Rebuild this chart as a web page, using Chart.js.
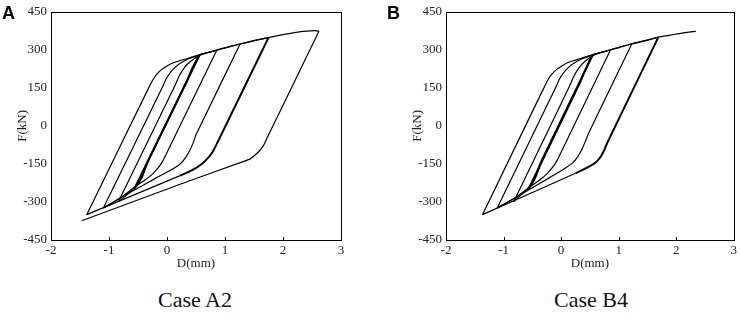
<!DOCTYPE html>
<html>
<head>
<meta charset="utf-8">
<script src="https://cdn.jsdelivr.net/npm/chart.js@4.4.1/dist/chart.umd.min.js"></script>
<style>
  body { margin: 0; background: #fff; width: 740px; height: 323px; overflow: hidden; position: relative; }
  .pane { position: absolute; top: 0; width: 370px; height: 275px; }
  .tag { position: absolute; font-family: "Liberation Sans", Arial, sans-serif; font-weight: bold; font-size: 18px; line-height: 18px; color: #000; }
  .cap { position: absolute; font-family: "Liberation Serif", "Times New Roman", serif; font-size: 22px; line-height: 22px; color: #111; transform: translateX(-50%); white-space: nowrap; }
</style>
</head>
<body>
<div class="pane" style="left:0"><canvas id="chartA" width="370" height="275"></canvas></div>
<div class="pane" style="left:370px"><canvas id="chartB" width="370" height="275"></canvas></div>
<div class="tag" style="left:2px;top:4px">A</div>
<div class="tag" style="left:387px;top:4px">B</div>
<div class="cap" style="left:195px;top:289px">Case A2</div>
<div class="cap" style="left:591px;top:289px">Case B4</div>
<script>
// axis setup
const xTicks = [-2, -1, 0, 1, 2, 3];
const yTicks = [-450, -300, -150, 0, 150, 300, 450];

// Case A2 branches, [D (mm), F (kN)]
const aLoad1 = [[-0.567,-250],[0.34,175],[0.4,208],[0.46,238],[0.51,260],[0.56,278]];
const aUnload1 = [[0.56,278],[-0.33,-140],[-0.38,-170],[-0.43,-200],[-0.5,-228],[-0.58,-250],[-0.68,-270],[-0.838,-299]];
const aLoad2 = [[-0.838,-299],[0.14,160],[0.2,192],[0.27,220],[0.35,243],[0.45,262],[0.55,277],[0.65,286],[0.75,292],[0.86,299]];
const aUnload2 = [[0.86,299],[0.0,-105],[-0.07,-137],[-0.15,-165],[-0.25,-190],[-0.38,-213],[-0.55,-240],[-0.75,-275],[-1.097,-324]];
const aLoad3 = [[-1.097,-324],[-0.08,152],[-0.02,183],[0.05,208],[0.13,229],[0.23,247],[0.35,262],[0.5,275],[0.6,283],[0.75,292],[0.86,299],[1.0,308],[1.26,323],[1.5,336],[1.75,348]];
const aUnload3 = [[1.26,323],[0.5,-35],[0.45,-68],[0.39,-98],[0.32,-125],[0.227,-150],[0.05,-176],[-0.2,-207],[-0.5,-245],[-0.8,-283],[-1.097,-324]];
const aUnload4 = [[1.75,348],[0.85,-75],[0.78,-105],[0.7,-128],[0.6,-150],[0.45,-172],[0.227,-196],[-1.384,-350]];
const aLoad4 = [[-1.384,-350],[-0.32,148],[-0.24,183],[-0.17,205],[-0.1,221],[0,236],[0.1,248],[0.2,256],[0.35,266],[0.5,276],[0.6,283],[0.75,292],[0.86,299],[1.0,308],[1.26,323],[1.5,336],[1.75,348],[2.0,360],[2.2,368],[2.4,374],[2.55,376],[2.62,373]];
const aUnload5 = [[2.62,373],[1.95,58],[1.73,-45],[1.67,-75],[1.6,-97],[1.52,-115],[1.435,-130],[1.3,-142],[0.227,-230],[-1.47,-374]];

// Case B4 branches
const bLoad1 = [[-0.567,-250],[0.33,172],[0.39,205],[0.45,235],[0.5,260],[0.546,278]];
const bUnload1 = [[0.546,278],[-0.34,-138],[-0.39,-168],[-0.44,-198],[-0.5,-226],[-0.58,-249],[-0.68,-269],[-0.824,-299]];
const bLoad2 = [[-0.824,-299],[0.15,158],[0.21,190],[0.28,219],[0.36,243],[0.46,263],[0.56,278],[0.65,287],[0.75,293],[0.86,300]];
const bUnload2 = [[0.86,300],[0.0,-104],[-0.07,-136],[-0.15,-164],[-0.25,-190],[-0.38,-214],[-0.55,-242],[-0.75,-276],[-1.11,-324]];
const bLoad3 = [[-1.11,-324],[-0.09,153],[-0.03,184],[0.04,208],[0.12,229],[0.22,247],[0.35,263],[0.5,276],[0.6,284],[0.75,293],[0.86,300],[1.0,309],[1.23,324],[1.5,338],[1.69,350]];
const bUnload3 = [[1.23,324],[0.48,-28],[0.42,-62],[0.36,-93],[0.29,-121],[0.2,-146],[0.03,-173],[-0.2,-204],[-0.5,-244],[-0.8,-284],[-1.11,-324]];
const bUnload4 = [[1.69,350],[0.8,-68],[0.74,-100],[0.68,-124],[0.6,-144],[0.45,-165],[0.25,-187],[-1.366,-350]];
const bLoad4 = [[-1.366,-350],[-0.31,145],[-0.23,181],[-0.16,204],[-0.08,222],[0.02,237],[0.1,248],[0.2,256],[0.35,267],[0.5,277],[0.6,284],[0.75,293],[0.86,300],[1.0,309],[1.23,324],[1.5,338],[1.69,350],[1.9,358],[2.1,366],[2.34,373]];

const thin = 1.2, thick = 2.0;

// thickUntil = number of leading segments drawn heavy (doubled trace)
function branch(pts, thickUntil){
    const n = thickUntil || 0;
    return {
        data: pts.map(p => ({x: p[0], y: p[1]})),
        showLine: true,
        borderColor: "#000",
        borderWidth: n ? thick : thin,
        segment: { borderWidth: ctx => ctx.p0DataIndex < n ? thick : thin },
        pointRadius: 0,
        tension: 0.15,
        fill: false
    };
}

// frame + inward x ticks
const framePlugin = {
    id: "frame",
    afterDraw(chart){
        const c = chart.ctx, a = chart.chartArea, xs = chart.scales.x;
        c.save();
        c.strokeStyle = "#000";
        c.lineWidth = 1;
        c.strokeRect(Math.round(a.left) + 0.5, Math.round(a.top) + 0.5, Math.round(a.right - a.left), Math.round(a.bottom - a.top));
        xTicks.forEach(v => {
            const px = Math.round(xs.getPixelForValue(v)) + 0.5;
            c.beginPath();
            c.moveTo(px, a.bottom);
            c.lineTo(px, a.bottom - 3);
            c.stroke();
        });
        c.restore();
    }
};

function makeChart(id, sets, axisW, padRight){
    const font = {family: "'Liberation Serif', 'Times New Roman', serif", size: 13};
    return new Chart(document.getElementById(id), {
        type: "scatter",
        data: { datasets: sets },
        options: {
            responsive: false,
            animation: false,
            devicePixelRatio: 1,
            layout: { padding: {left: 0, top: 6, right: padRight, bottom: 0} },
            plugins: { legend: {display: false}, tooltip: {enabled: false} },
            scales: {
                x: {
                    type: "linear", min: -2, max: 3,
                    afterBuildTicks: s => { s.ticks = xTicks.map(v => ({value: v})); },
                    afterFit: s => { s.height = 35; },
                    grid: {display: false, drawTicks: false},
                    border: {display: false},
                    ticks: {color: "#222", font: font, padding: 3, maxRotation: 0},
                    title: {display: true, text: "D(mm)", color: "#222", font: font, padding: {top: 0, bottom: 4}}
                },
                y: {
                    type: "linear", min: -450, max: 450,
                    afterBuildTicks: s => { s.ticks = yTicks.map(v => ({value: v})); },
                    afterFit: s => { s.width = axisW; },
                    grid: {display: false, drawTicks: false},
                    border: {display: false},
                    ticks: {color: "#222", font: font, padding: 4},
                    title: {display: true, text: "F(kN)", color: "#222", font: font, padding: {top: axisW - 36, bottom: 0}}
                }
            }
        },
        plugins: [framePlugin]
    });
}

makeChart("chartA", [
    branch(aLoad1, 5), branch(aUnload1, 5),
    branch(aLoad2), branch(aUnload2),
    branch(aLoad3), branch(aUnload3),
    branch(aUnload4, 6), branch(aLoad4), branch(aUnload5)
], 51, 29);

makeChart("chartB", [
    branch(bLoad1, 5), branch(bUnload1, 5),
    branch(bLoad2), branch(bUnload2),
    branch(bLoad3), branch(bUnload3),
    branch(bUnload4, 6), branch(bLoad4)
], 76, 2);
</script>
</body>
</html>
